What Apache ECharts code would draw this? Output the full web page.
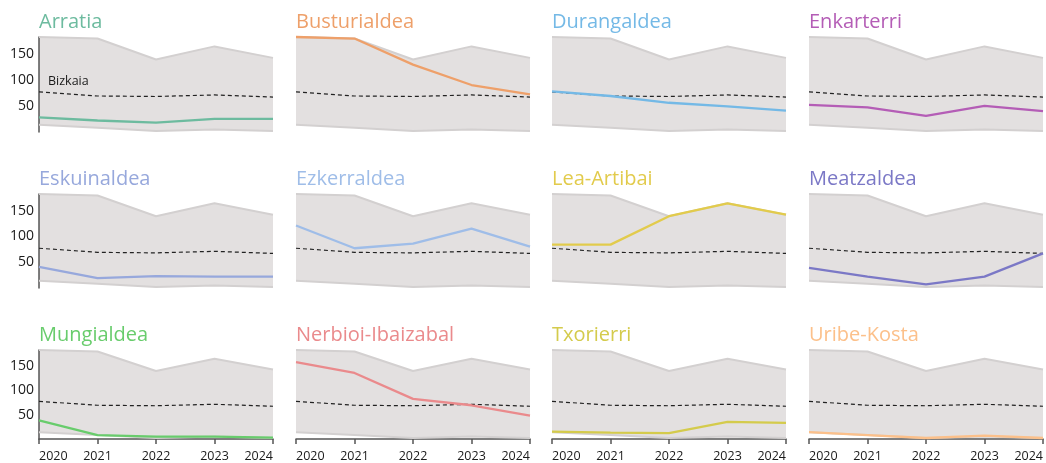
<!DOCTYPE html>
<html><head><meta charset="utf-8">
<script src="https://cdn.jsdelivr.net/npm/echarts@6/dist/echarts.min.js"></script>
<style>html,body{margin:0;padding:0;background:#fff}#c{width:1046px;height:463px}</style>
</head><body><div id="c"></div>
<script>
const years = ['2020', '2021', '2022', '2023', '2024'];
const yTickLabels = [50, 100, 150];
const bizkaia = [77, 69, 68, 71, 67];

const arratia = [28, 22, 18, 25, 25];
const busturialdea = [182, 179, 129, 90, 72];
const durangaldea = [78, 69, 56, 49, 41];
const enkarterri = [52, 47, 31, 50, 40];
const eskuinaldea = [41, 19, 23, 22, 22];
const ezkerraldea = [121, 77, 86, 115, 80];
const leaArtibai = [84, 84, 139, 164, 142];
const meatzaldea = [39, 22, 7, 22, 67];
const mungialdea = [38, 8, 5, 5, 3];
const nerbioiIbaizabal = [157, 135, 82, 69, 48];
const txorierri = [15, 13, 12, 35, 33];
const uribeKosta = [14, 8, 2, 7, 2];

const names = ['Arratia', 'Busturialdea', 'Durangaldea', 'Enkarterri',
  'Eskuinaldea', 'Ezkerraldea', 'Lea-Artibai', 'Meatzaldea',
  'Mungialdea', 'Nerbioi-Ibaizabal', 'Txorierri', 'Uribe-Kosta'];
const values = [arratia, busturialdea, durangaldea, enkarterri,
  eskuinaldea, ezkerraldea, leaArtibai, meatzaldea,
  mungialdea, nerbioiIbaizabal, txorierri, uribeKosta];
const colors = ['#6dbb9f', '#eea06a', '#74b9e6', '#b45db6',
  '#97a8dc', '#9fbde8', '#e2cb4c', '#7b78c6',
  '#68cc6c', '#ea8a8c', '#d4cb4c', '#fcc08a'];

// band = range across all comarcas
const bandMin = years.map((_, i) => Math.min(...values.map(v => v[i])));
const bandMax = years.map((_, i) => Math.max(...values.map(v => v[i])));
const bandRange = bandMax.map((m, i) => m - bandMin[i]);
const yMax = Math.max(...bandMax);

const FONT = '"Open Sans", "Noto Sans", sans-serif';
const colLeft = [39, 296, 552, 809];
const rowTop = [37, 194, 350];
const rowH = [95, 94, 94];
const W = 234;

const chart = echarts.init(document.getElementById('c'), null, {renderer: 'canvas'});
const grid = [], xAxis = [], yAxis = [], series = [], title = [];

names.forEach((name, k) => {
  const r = Math.floor(k / 4), c = k % 4;
  grid.push({left: colLeft[c], top: rowTop[r], width: W, height: rowH[r], containLabel: false});
  title.push({
    text: name, left: colLeft[c], top: rowTop[r] - 25, padding: 0,
    textStyle: {fontSize: 20, fontWeight: 'normal', color: colors[k], fontFamily: FONT}
  });
  const bottomRow = r === 2;
  xAxis.push({
    type: 'category', gridIndex: k, data: years, boundaryGap: false,
    axisLine: {show: bottomRow, lineStyle: {color: '#555', width: 1.5}},
    axisTick: {show: bottomRow, length: 5, lineStyle: {color: '#555', width: 1.5}},
    axisLabel: {show: bottomRow, interval: 0, fontSize: 12.5, color: '#1a1a1a', fontFamily: FONT, margin: 11,
      alignMinLabel: 'left', alignMaxLabel: 'right'},
    splitLine: {show: false}
  });
  yAxis.push({
    type: 'value', gridIndex: k, min: 0, max: yMax, interval: 50,
    axisLine: {show: c === 0, lineStyle: {color: '#555', width: 1.5}},
    axisTick: {show: false},
    axisLabel: {show: c === 0, fontSize: 14, color: '#1a1a1a', fontFamily: FONT, margin: 5,
      formatter: v => yTickLabels.includes(v) ? String(v) : ''},
    splitLine: {show: false}
  });
  series.push({
    type: 'line', xAxisIndex: k, yAxisIndex: k, data: bandMin, stack: 'band' + k,
    symbol: 'none', silent: true, clip: false, z: 1,
    lineStyle: {color: '#d3d0d0', width: 2}
  });
  series.push({
    type: 'line', xAxisIndex: k, yAxisIndex: k, data: bandRange, stack: 'band' + k,
    symbol: 'none', silent: true, clip: false, z: 0,
    lineStyle: {color: '#d3d0d0', width: 2},
    areaStyle: {color: '#e3e0e0', opacity: 1}
  });
  series.push({
    type: 'line', xAxisIndex: k, yAxisIndex: k,
    data: bizkaia.map((v, i) => (k === 0 && i === 0) ? {
      value: v,
      label: {show: true, formatter: 'Bizkaia', position: 'right', offset: [4, -10],
        fontSize: 12.5, color: '#1a1a1a', fontFamily: FONT}
    } : v),
    symbol: 'circle', symbolSize: 0, showSymbol: true, silent: true, clip: false, z: 3,
    itemStyle: {color: '#222'},
    lineStyle: {color: '#222', width: 1.2, type: [4, 3]}
  });
  series.push({
    type: 'line', xAxisIndex: k, yAxisIndex: k, data: values[k],
    symbol: 'none', silent: true, clip: false, z: 4,
    lineStyle: {color: colors[k], width: 2.3}
  });
});

chart.setOption({animation: false, title, grid, xAxis, yAxis, series});
</script>
</body></html>
